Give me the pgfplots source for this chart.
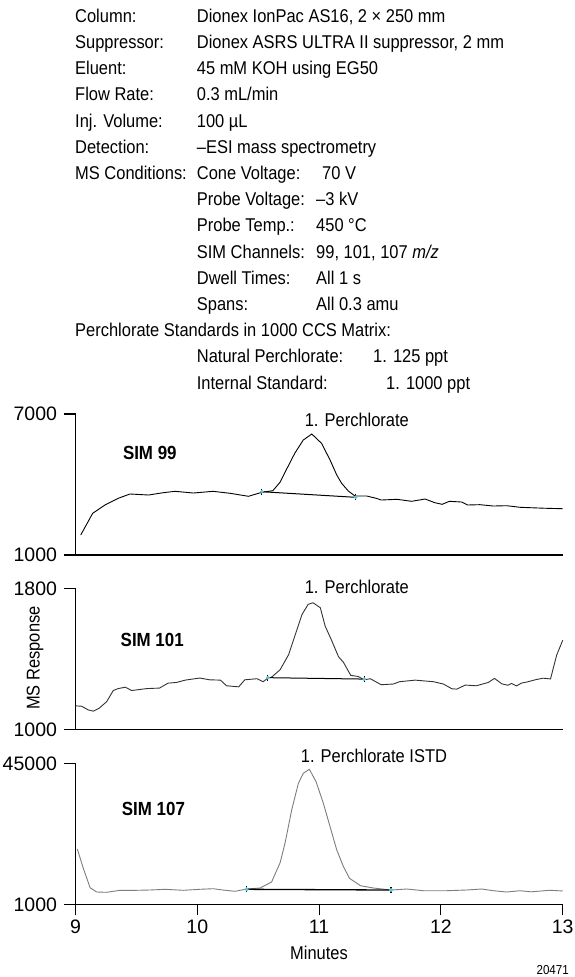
\documentclass[border=0pt]{standalone}
\usepackage{fontspec}
\setmainfont{Liberation Sans}[FakeStretch=0.89]
\newfontfamily\numfont{Liberation Sans}
\usepackage{pgfplots}
\pgfplotsset{compat=1.18}
\definecolor{cy}{RGB}{90,200,222}
\definecolor{g2}{RGB}{50,50,50}
\definecolor{g3}{RGB}{125,125,125}
\newcommand{\fs}{\fontsize{18.5pt}{21pt}\selectfont}
\newcommand{\fn}{\numfont\fontsize{19.5pt}{22pt}\selectfont}
\newcommand{\fb}{\fontsize{19pt}{22pt}\selectfont\bfseries}

\pgfplotstableread{
x y
9.043 1851
9.141 2774
9.242 3128
9.35 3412
9.447 3596
9.60 3553
9.72 3651
9.817 3710
9.967 3638
10.13 3710
10.27 3625
10.42 3498
10.53 3668
10.62 3736
10.68 4100
10.73 4617
10.80 5327
10.87 5893
10.94 6149
11.02 5753
11.09 5043
11.145 4404
11.185 4051
11.24 3723
11.295 3511
11.39 3511
11.47 3412
11.51 3340
11.64 3370
11.76 3285
11.87 3383
11.95 3227
12.01 3157
12.07 3285
12.17 3255
12.22 3128
12.32 3142
12.43 3085
12.54 3098
12.65 3030
12.75 3010
12.85 2990
13.0 2970
}\simA

\pgfplotstableread{
x y
9.0 1133
9.05 1131
9.105 1110
9.146 1103
9.195 1120
9.256 1157
9.31 1220
9.35 1231
9.41 1239
9.46 1220
9.585 1231
9.69 1234
9.76 1262
9.83 1266
9.90 1279
10.02 1291
10.10 1281
10.19 1279
10.24 1247
10.34 1241
10.39 1281
10.49 1287
10.54 1270
10.58 1291
10.61 1296
10.68 1338
10.75 1424
10.80 1528
10.86 1652
10.91 1709
10.95 1718
11.01 1690
11.05 1585
11.10 1509
11.16 1411
11.20 1380
11.26 1306
11.32 1300
11.37 1281
11.42 1287
11.51 1253
11.61 1257
11.66 1270
11.79 1279
11.94 1270
12.02 1257
12.09 1230
12.13 1228
12.20 1251
12.29 1247
12.39 1266
12.44 1289
12.50 1258
12.55 1250
12.58 1260
12.62 1246
12.66 1262
12.71 1269
12.78 1282
12.84 1290
12.90 1286
12.95 1420
13.0 1505
}\simB

\pgfplotstableread{
x y
9.015 18260
9.064 12236
9.12 6180
9.174 4839
9.256 4745
9.365 5369
9.50 5369
9.61 5463
9.735 5682
9.885 5369
10.02 5682
10.13 5869
10.21 5463
10.31 5057
10.405 5775
10.515 6087
10.61 7960
10.68 14000
10.72 20040
10.775 30430
10.83 38760
10.87 41880
10.92 43130
10.975 39270
11.035 32520
11.09 25220
11.145 17950
11.20 12740
11.25 9110
11.34 6800
11.445 6087
11.59 5460
11.72 5775
11.855 5245
12.05 5245
12.21 5463
12.335 5775
12.43 5245
12.54 4839
12.65 5245
12.74 4900
12.83 5170
12.89 5380
13.0 5170
}\simC

\pgfplotsset{panel/.style={
  scale only axis, width=487.2pt, height=141pt,
  xmin=9, xmax=13,
  axis x line=bottom, axis y line=left,
  axis line style={-, line width=1.2pt},
  tick align=outside, major tick length=11pt,
  every tick/.style={line width=1.1pt, black},
  xtick=\empty, clip=false,
  scaled y ticks=false, scaled x ticks=false,
  tick label style={font=\fn},
  yticklabel style={xshift=-4pt},
  xticklabel style={yshift=-1pt},
  /pgf/number format/assume math mode=true,
  anchor=south west}}

\begin{document}
\begin{tikzpicture}
\path[use as bounding box] (0,0) rectangle (574pt,-977pt);
% header
\begin{scope}[every node/.style={anchor=base west, font=\fs, inner sep=0pt}]
\node at (75pt,-22.2pt) {Column:};        \node at (196.7pt,-22.2pt) {Dionex IonPac AS16, 2 × 250 mm};
\node at (75pt,-48.4pt) {Suppressor:};    \node at (196.7pt,-48.4pt) {Dionex ASRS ULTRA II suppressor, 2 mm};
\node at (75pt,-74.6pt) {Eluent:};        \node at (196.7pt,-74.6pt) {45 mM KOH using EG50};
\node at (75pt,-100.8pt) {Flow Rate:};    \node at (196.7pt,-100.8pt) {0.3 mL/min};
\node at (75pt,-127pt) {Inj. Volume:};    \node at (196.7pt,-127pt) {100 µL};
\node at (75pt,-153.2pt) {Detection:};    \node at (196.7pt,-153.2pt) {–ESI mass spectrometry};
\node at (75pt,-179.4pt) {MS Conditions:};\node at (196.7pt,-179.4pt) {Cone Voltage:}; \node at (322pt,-179.4pt) {70 V};
\node at (196.7pt,-205.6pt) {Probe Voltage:}; \node at (316pt,-205.6pt) {–3 kV};
\node at (196.7pt,-231.8pt) {Probe Temp.:};   \node at (316pt,-231.8pt) {450 °C};
\node at (196.7pt,-258pt) {SIM Channels:};    \node at (316pt,-258pt) {99, 101, 107 \textit{m/z}};
\node at (196.7pt,-284.2pt) {Dwell Times:};   \node at (316pt,-284.2pt) {All 1 s};
\node at (196.7pt,-310.4pt) {Spans:};         \node at (316pt,-310.4pt) {All 0.3 amu};
\node at (75pt,-336.6pt) {Perchlorate Standards in 1000 CCS Matrix:};
\node at (196.7pt,-362.8pt) {Natural Perchlorate:}; \node at (373pt,-362.8pt) {1. 125 ppt};
\node at (196.7pt,-389pt) {Internal Standard:};     \node at (386pt,-389pt) {1. 1000 ppt};
\end{scope}

% panel 1
\begin{axis}[panel, at={(75.5pt,-555pt)}, ymin=1000, ymax=7000, ytick={1000,7000}, yticklabels={1000,7000}]
\addplot[black, line width=0.9pt] table[x=x,y=y]{\simA};
\addplot[black, line width=1pt, mark=|, mark size=3pt] coordinates {(10.53,3693) (11.30,3455)};
\addplot[only marks, mark=*, mark size=1.6pt, cy] coordinates {(10.53,3693) (11.30,3455)};
\node[font=\fs] at (axis cs:11.31,6744) {1. Perchlorate};
\node[font=\fb] at (axis cs:9.61,5361) {SIM 99};
\end{axis}

% panel 2
\begin{axis}[panel, at={(75.5pt,-729.3pt)}, ymin=1000, ymax=1800, ytick={1000,1800}, yticklabels={1000,1800}]
\addplot[g2, line width=0.9pt] table[x=x,y=y]{\simB};
\addplot[black, line width=1pt, mark=|, mark size=3pt] coordinates {(10.58,1293) (11.37,1285)};
\addplot[only marks, mark=*, mark size=1.6pt, cy] coordinates {(10.58,1293) (11.37,1285)};
\node[font=\fs] at (axis cs:11.31,1806) {1. Perchlorate};
\node[font=\fb] at (axis cs:9.63,1509) {SIM 101};
\end{axis}

% panel 3
\begin{axis}[panel, at={(75.5pt,-904.3pt)}, ymin=1000, ymax=45000, ytick={1000,45000}, yticklabels={1000,45000},
  xtick={9,10,11,12,13}, xticklabels={9,10,11,12,13}]
\addplot[g3, line width=0.9pt] table[x=x,y=y]{\simC};
\addplot[black, line width=1.3pt, mark=|, mark size=3pt] coordinates {(10.405,5680) (11.59,5460)};
\addplot[only marks, mark=*, mark size=1.8pt, cy] coordinates {(10.405,5680) (11.59,5460)};
\node[font=\fs] at (axis cs:11.45,47285) {1. Perchlorate ISTD};
\node[font=\fb] at (axis cs:9.64,30650) {SIM 107};
\end{axis}

\node[font=\fs, rotate=90] at (35pt,-658pt) {MS Response};
\node[font=\fs] at (319pt,-953pt) {Minutes};
\node[font=\fontsize{13pt}{15pt}\selectfont, anchor=east, inner sep=0pt] at (569pt,-970pt) {20471};
\end{tikzpicture}
\end{document}
